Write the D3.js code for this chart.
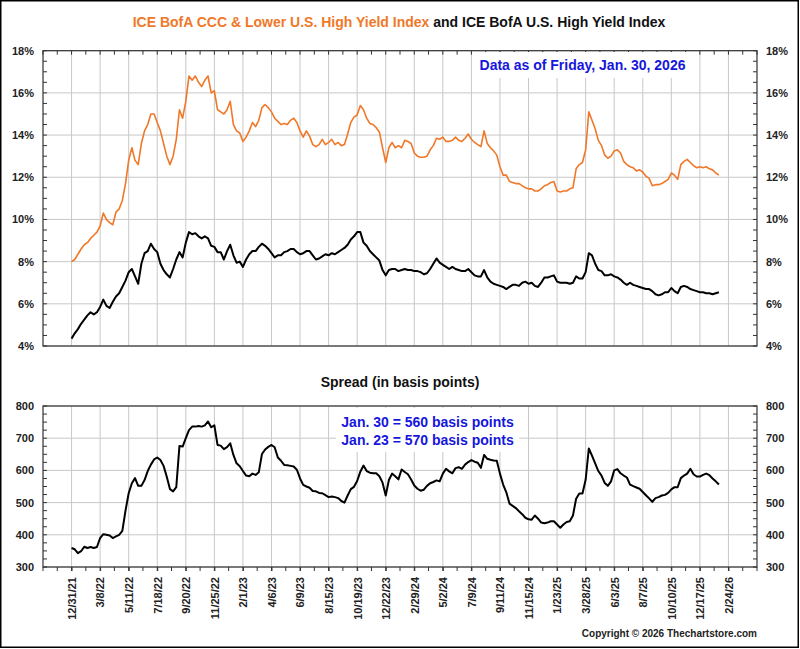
<!DOCTYPE html>
<html><head><meta charset="utf-8">
<script src="https://cdn.jsdelivr.net/npm/d3@7"></script>
<style>
body{margin:0;background:#fff}
svg text{font-family:"Liberation Sans",Arial,Helvetica,sans-serif;font-weight:bold}
</style></head>
<body><svg id="c" width="800" height="649"></svg>
<script>
// ---- DATA (one sample per ~5 trading days, 9 samples between labelled ticks) ----
const tickLabels = ["12/31/21","3/8/22","5/11/22","7/18/22","9/20/22","11/25/22","2/1/23","4/6/23","6/9/23","8/15/23","10/19/23","12/22/23","2/29/24","5/2/24","7/9/24","9/11/24","11/15/24","1/23/25","3/28/25","6/3/25","8/7/25","10/10/25","12/17/25","2/24/26"];
const samplesPerTick = 9;

// ICE BofA CCC & Lower U.S. High Yield Index, effective yield (%)
const cccYield = [
8.0,8.1,8.35,8.6,8.8,8.9,9.1,9.25,9.4,9.7,
10.3,10.0,9.85,9.75,10.35,10.5,10.9,11.7,12.8,13.4,
12.8,12.6,13.6,14.2,14.5,15.0,15.0,14.6,14.2,13.6,
13.0,12.6,13.0,13.8,15.2,14.8,15.6,16.8,16.6,16.8,
16.5,16.3,16.6,16.8,16.0,16.1,15.2,15.1,15.0,15.2,
15.6,14.5,14.2,14.1,13.7,13.9,14.2,14.6,14.4,14.7,
15.3,15.45,15.3,15.1,14.8,14.65,14.5,14.55,14.5,14.7,
14.8,14.6,14.2,13.9,14.2,13.95,13.55,13.45,13.55,13.8,
13.55,13.65,13.8,13.55,13.65,13.5,13.55,14.05,14.6,14.85,
14.95,15.4,15.2,14.8,14.55,14.5,14.35,14.15,13.4,12.7,
13.4,13.65,13.4,13.5,13.4,13.75,13.7,13.6,13.15,13.0,
12.95,12.95,13.0,13.3,13.5,13.85,13.8,13.9,13.7,13.7,
13.75,13.9,13.75,13.7,13.85,14.05,13.8,13.65,13.55,13.45,
14.2,13.6,13.4,13.25,13.05,12.5,12.1,12.1,11.8,11.75,
11.7,11.7,11.6,11.5,11.45,11.45,11.35,11.35,11.45,11.6,
11.65,11.75,11.8,11.35,11.3,11.35,11.35,11.45,11.5,12.4,
12.6,12.7,13.3,15.1,14.7,14.3,13.75,13.5,13.05,12.9,
13.0,13.25,13.3,13.15,12.75,12.6,12.5,12.45,12.3,12.35,
12.25,12.05,11.95,11.6,11.65,11.65,11.7,11.8,11.9,12.2,
12.1,11.9,12.6,12.75,12.85,12.7,12.55,12.45,12.5,12.45,
12.5,12.4,12.35,12.2,12.1
];

// ICE BofA U.S. High Yield Index, effective yield (%)
const hyYield = [
4.35,4.6,4.8,5.05,5.25,5.45,5.6,5.5,5.6,5.85,
6.2,5.9,5.8,6.1,6.35,6.5,6.8,7.1,7.5,7.65,
7.3,6.95,7.9,8.4,8.5,8.85,8.6,8.45,7.9,7.6,
7.4,7.25,7.65,8.1,8.45,8.2,8.9,9.4,9.3,9.35,
9.2,9.1,9.2,9.1,8.75,8.7,8.45,8.45,8.1,8.5,
8.8,8.3,7.95,8.0,7.75,8.1,8.35,8.5,8.5,8.7,
8.85,8.75,8.6,8.4,8.2,8.3,8.3,8.45,8.5,8.6,
8.6,8.45,8.35,8.4,8.5,8.5,8.3,8.1,8.15,8.25,
8.35,8.3,8.4,8.35,8.45,8.55,8.65,8.8,9.05,9.2,
9.4,9.4,8.9,8.75,8.5,8.35,8.2,8.05,7.6,7.35,
7.6,7.65,7.65,7.55,7.6,7.65,7.6,7.6,7.55,7.55,
7.5,7.4,7.45,7.65,7.9,8.15,7.95,7.85,7.75,7.65,
7.75,7.65,7.6,7.55,7.55,7.65,7.5,7.35,7.3,7.3,
7.6,7.25,7.05,6.95,6.9,6.85,6.8,6.7,6.8,6.9,
6.9,6.85,7.0,7.05,6.95,7.0,6.85,6.8,7.0,7.25,
7.25,7.3,7.35,7.05,7.0,7.0,7.0,6.95,7.0,7.3,
7.2,7.2,7.5,8.4,8.3,7.9,7.6,7.55,7.35,7.35,
7.4,7.3,7.25,7.15,7.0,6.9,7.0,6.9,6.85,6.8,
6.75,6.7,6.7,6.6,6.45,6.4,6.45,6.55,6.55,6.75,
6.6,6.5,6.8,6.85,6.8,6.7,6.65,6.6,6.55,6.55,
6.5,6.5,6.45,6.5,6.55
];

// Spread between the two indexes (basis points)
const spreadBp = [
359,355,343,349,363,359,362,359,362,390,
402,400,398,390,395,400,412,475,529,560,
576,552,552,570,598,618,634,640,632,614,
580,542,535,548,676,674,700,725,736,736,
738,736,740,752,734,740,679,677,666,672,
684,648,622,613,598,584,582,590,586,594,
651,665,673,679,672,640,630,617,616,614,
612,602,575,555,550,546,536,535,530,529,
523,517,519,517,514,505,500,522,542,549,
567,596,615,598,593,591,591,582,562,522,
570,590,582,572,603,595,588,572,553,543,
537,540,552,560,564,569,566,590,605,597,
591,607,610,605,618,626,632,627,624,608,
648,636,633,631,630,590,556,532,497,490,
483,473,464,453,448,447,460,450,438,436,
438,442,442,432,422,432,440,442,460,512,
528,528,571,668,646,622,598,584,561,552,
566,600,604,591,584,578,556,551,547,543,
533,523,513,502,514,517,522,524,530,541,
548,548,576,584,590,605,588,581,581,586,
590,585,575,566,556
];

const yieldTicks = [4,6,8,10,12,14,16,18];
const spreadTicks = [300,400,500,600,700,800];

const titleOrange = "ICE BofA CCC & Lower U.S. High Yield Index";
const titleBlack = " and ICE BofA U.S. High Yield Index";
const asOfText = "Data as of Friday, Jan. 30, 2026";
const spreadTitle = "Spread (in basis points)";
const spreadNotes = ["Jan. 30 = 560 basis points","Jan. 23 = 570 basis points"];
const copyright = "Copyright \u00A9 2026 Thechartstore.com";

// ---- STYLE ----
const ORANGE = "#f07828", BLUE = "#1616dc", GRID = "#c8c8c8", AXIS = "#333";

const svg = d3.select("#c");
svg.append("rect").attr("width",800).attr("height",649).attr("fill","#fff");

const tickIdx = tickLabels.map((_, i) => i * samplesPerTick);
const minorIdx = d3.range(-samplesPerTick, tickIdx[tickIdx.length-1] + samplesPerTick + 0.01, samplesPerTick/2);

const x = d3.scaleLinear().domain([-samplesPerTick, (tickLabels.length) * samplesPerTick]).range([43, 757]);
const yTop = d3.scaleLinear().domain([4, 18]).range([346, 50.7]);
const yBot = d3.scaleLinear().domain([300, 800]).range([567, 406]);

function panel(y, majors, minorStep, fmt) {
  const [y0, y1] = y.range(); // bottom, top
  const g = svg.append("g");
  // vertical grid
  g.selectAll(".vg").data(tickIdx).join("line")
    .attr("x1", d => x(d)).attr("x2", d => x(d))
    .attr("y1", y1).attr("y2", y0).attr("stroke", GRID).attr("stroke-width", 1);
  // horizontal grid
  g.selectAll(".hg").data(majors).join("line")
    .attr("x1", x.range()[0]).attr("x2", x.range()[1])
    .attr("y1", d => y(d)).attr("y2", d => y(d)).attr("stroke", GRID).attr("stroke-width", 1);
  // minor y ticks, inward on both sides
  const dom = y.domain();
  const minors = d3.range(dom[0], dom[1] + 1e-9, minorStep);
  g.selectAll(".ml").data(minors).join("line")
    .attr("x1", x.range()[0]).attr("x2", x.range()[0] + 4)
    .attr("y1", d => y(d)).attr("y2", d => y(d)).attr("stroke", AXIS);
  g.selectAll(".mr").data(minors).join("line")
    .attr("x1", x.range()[1] - 4).attr("x2", x.range()[1])
    .attr("y1", d => y(d)).attr("y2", d => y(d)).attr("stroke", AXIS);
  // labels via axes
  const la = svg.append("g").attr("transform", `translate(${x.range()[0]},0)`)
    .call(d3.axisLeft(y).tickValues(majors).tickFormat(fmt).tickSize(0).tickPadding(9));
  la.select(".domain").remove();
  la.selectAll("text").attr("font-size", 11).attr("fill", "#222")
    .style("font-family", '"Liberation Sans",Arial,sans-serif').style("font-weight", "bold");
  const ra = svg.append("g").attr("transform", `translate(${x.range()[1]},0)`)
    .call(d3.axisRight(y).tickValues(majors).tickFormat(fmt).tickSize(0).tickPadding(9));
  ra.select(".domain").remove();
  ra.selectAll("text").attr("font-size", 11).attr("fill", "#222")
    .style("font-family", '"Liberation Sans",Arial,sans-serif').style("font-weight", "bold");
  return g;
}

function frame(y) {
  const [y0, y1] = y.range();
  svg.append("rect").attr("x", x.range()[0]).attr("y", y1)
    .attr("width", x.range()[1] - x.range()[0]).attr("height", y0 - y1)
    .attr("fill", "none").attr("stroke", AXIS).attr("stroke-width", 1.2);
}

// ---- TOP PANEL ----
panel(yTop, yieldTicks, 0.5, d => d + "%");
// top edge ticks inward
svg.append("g").selectAll("line").data(minorIdx).join("line")
  .attr("x1", d => x(d)).attr("x2", d => x(d))
  .attr("y1", yTop.range()[1]).attr("y2", yTop.range()[1] + 4).attr("stroke", AXIS);
// white box behind the date note
svg.append("rect").attr("x", 476).attr("y", 52).attr("width", 214).attr("height", 26).attr("fill", "#fff");

const line = yS => d3.line().x((d, i) => x(i)).y(d => yS(d));
svg.append("path").datum(cccYield).attr("d", line(yTop))
  .attr("fill", "none").attr("stroke", ORANGE).attr("stroke-width", 1.6).attr("stroke-linejoin", "round");
svg.append("path").datum(hyYield).attr("d", line(yTop))
  .attr("fill", "none").attr("stroke", "#000").attr("stroke-width", 2).attr("stroke-linejoin", "round");
frame(yTop);

svg.append("text").attr("x", 582.5).attr("y", 70).attr("text-anchor", "middle")
  .attr("font-size", 14).attr("fill", BLUE).text(asOfText);

// ---- BOTTOM PANEL ----
panel(yBot, spreadTicks, 25, d => d);
svg.append("rect").attr("x", 336).attr("y", 408).attr("width", 183).attr("height", 44).attr("fill", "#fff");
svg.append("path").datum(spreadBp).attr("d", line(yBot))
  .attr("fill", "none").attr("stroke", "#000").attr("stroke-width", 2).attr("stroke-linejoin", "round");
frame(yBot);

// bottom x axis: minor ticks outward + rotated labels
svg.append("g").selectAll("line").data(minorIdx).join("line")
  .attr("x1", d => x(d)).attr("x2", d => x(d))
  .attr("y1", yBot.range()[0]).attr("y2", yBot.range()[0] + 4).attr("stroke", AXIS);
const xa = svg.append("g").attr("transform", `translate(0,${yBot.range()[0]})`)
  .call(d3.axisBottom(x).tickValues(tickIdx).tickFormat(d => tickLabels[Math.round(d / samplesPerTick)]).tickSize(4));
xa.select(".domain").remove();
xa.selectAll(".tick line").attr("stroke", AXIS);
xa.selectAll("text")
  .attr("transform", "rotate(-90)").attr("text-anchor", "end")
  .attr("x", -10).attr("y", 0).attr("dy", "0.35em")
  .attr("font-size", 11).attr("fill", "#222")
  .style("font-family", '"Liberation Sans",Arial,sans-serif').style("font-weight", "bold");

spreadNotes.forEach((t, i) => {
  svg.append("text").attr("x", 427.5).attr("y", 426.7 + i * 18.5).attr("text-anchor", "middle")
    .attr("font-size", 14).attr("fill", BLUE).text(t);
});
svg.append("text").attr("x", 400).attr("y", 387).attr("text-anchor", "middle")
  .attr("font-size", 14).attr("fill", "#111").text(spreadTitle);

// ---- TITLE ----
const tt = svg.append("text").attr("x", 399).attr("y", 27).attr("text-anchor", "middle").attr("font-size", 14);
tt.append("tspan").attr("fill", ORANGE).text(titleOrange);
tt.append("tspan").attr("fill", "#111").text(titleBlack);

svg.append("text").attr("x", 757).attr("y", 637).attr("text-anchor", "end")
  .attr("font-size", 10).attr("fill", "#222").text(copyright);

// outer border
svg.append("rect").attr("x", 0.75).attr("y", 0.75).attr("width", 797.5).attr("height", 646.5)
  .attr("fill", "none").attr("stroke", "#000").attr("stroke-width", 1.5);
</script></body></html>
